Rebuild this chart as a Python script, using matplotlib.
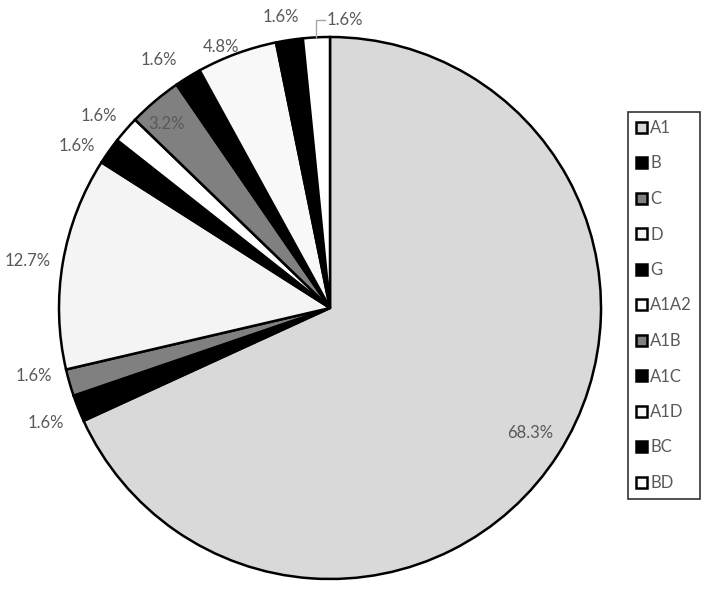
import numpy as np
import matplotlib
matplotlib.use("Agg")
import matplotlib.pyplot as plt
from matplotlib.patches import Patch

categories = ["A1", "B", "C", "D", "G", "A1A2", "A1B", "A1C", "A1D", "BC", "BD"]
values = [68.3, 1.6, 1.6, 12.7, 1.6, 1.6, 3.2, 1.6, 4.8, 1.6, 1.6]
labels = ["68.3%", "1.6%", "1.6%", "12.7%", "1.6%", "1.6%", "3.2%", "1.6%", "4.8%", "1.6%", "1.6%"]
colors = ["#d9d9d9", "#000000", "#808080", "#f4f4f4", "#000000", "#ffffff",
          "#808080", "#000000", "#f8f8f8", "#000000", "#ffffff"]

# label placement: radial distance (fraction of radius) and angle nudge (deg)
label_r = [0.87, 1.13, 1.12, 1.13, 1.11, 1.11, 0.91, 1.11, 1.045, 1.09, 1.1]
label_da = [-0.6, -0.3, 3.0, -0.9, -2.8, -1.5, -1.4, -3.0, -2.6, -1.0, 0.0]

W, H = 715, 595
fig = plt.figure(figsize=(W / 100, H / 100), dpi=100)
ax = fig.add_axes([0, 0, 1, 1])

cx, cy, R = 330, H - 308, 271
wedges, _ = ax.pie(values, colors=colors, startangle=90, counterclock=False,
                   center=(cx, cy), radius=R, frame=True,
                   wedgeprops=dict(edgecolor="black", linewidth=1.8))
ax.set_xlim(0, W)
ax.set_ylim(0, H)
ax.set_aspect("equal")
ax.axis("off")

fam = ["Lato", "DejaVu Sans"]
font = dict(family=fam, fontsize=12, color="#595959")
total = sum(values)
cum = 0
for i, v in enumerate(values):
    mid = (cum + v / 2) / total * 360
    cum += v
    if i == len(values) - 1:
        a = np.deg2rad(mid)
        ex, ey = cx + R * np.sin(a), cy + R * np.cos(a)
        ax.plot([ex, ex, ex + 9], [ey, ey + 17, ey + 17], color="#a6a6a6", lw=1)
        ax.text(ex + 10, ey + 17, labels[i], ha="left", va="center", **font)
    else:
        a = np.deg2rad(mid + label_da[i])
        r = label_r[i] * R
        ax.text(cx + r * np.sin(a), cy + r * np.cos(a), labels[i],
                ha="center", va="center", **font)

handles = [Patch(facecolor=c, edgecolor="black", linewidth=1.8) for c in colors]
leg = ax.legend(handles, categories, loc="upper left",
                bbox_to_anchor=(628 / W, 1 - 112 / H), bbox_transform=fig.transFigure,
                frameon=True, fancybox=False, handlelength=0.65, handleheight=0.65,
                handletextpad=0.2, labelspacing=1.17, borderpad=0.48,
                borderaxespad=0, prop=dict(family=fam, size=12),
                labelcolor="#595959")
leg.get_frame().set_edgecolor("black")
leg.get_frame().set_linewidth(1.2)

fig.savefig("out.png", dpi=100, facecolor="white")
